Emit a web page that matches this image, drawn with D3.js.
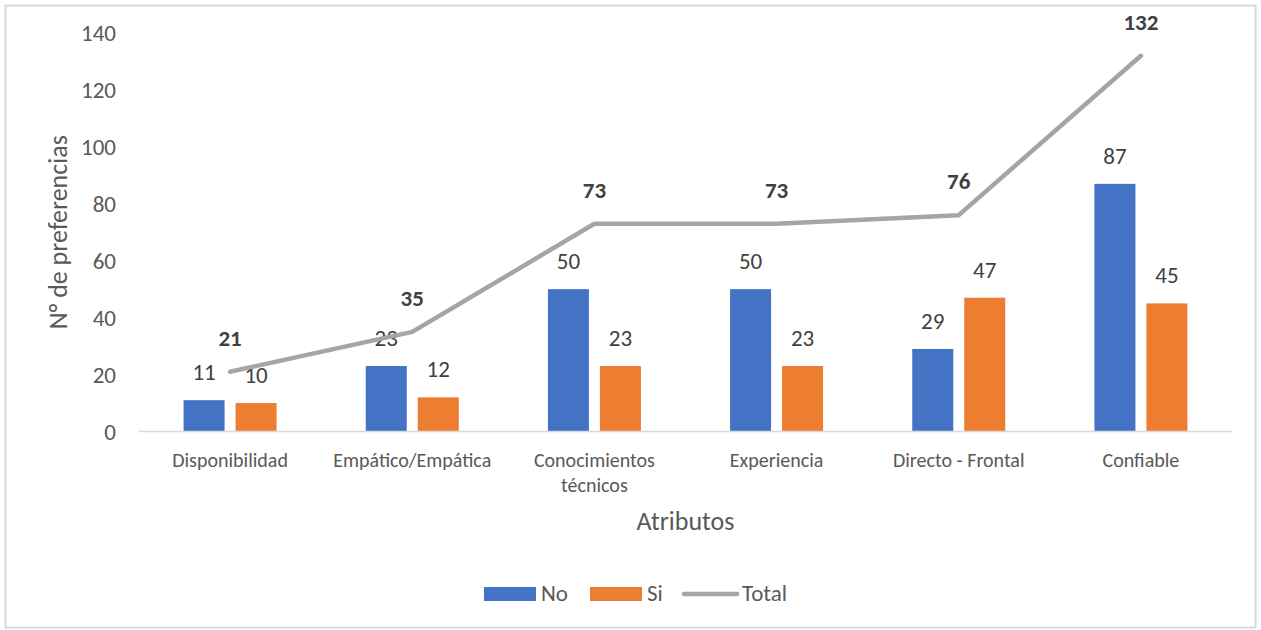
<!DOCTYPE html>
<html>
<head>
<meta charset="utf-8">
<script src="https://cdn.jsdelivr.net/npm/d3@7"></script>
<style>
  html, body { margin: 0; padding: 0; background: #fff; }
  svg { display: block; font-family: Calibri, Carlito, Lato, "Open Sans", sans-serif; }
</style>
</head>
<body>
<svg id="chart" width="1261" height="630"></svg>
<script>
// Atributos and preference counts
const categories = ["Disponibilidad", "Empático/Empática", "Conocimientos técnicos", "Experiencia", "Directo - Frontal", "Confiable"];
const noValues = [11, 23, 50, 50, 29, 87];
const siValues = [10, 12, 23, 23, 47, 45];
const totalValues = [21, 35, 73, 73, 76, 132];
const yTicks = [0, 20, 40, 60, 80, 100, 120, 140];

const colors = { No: "#4472C4", Si: "#ED7D31", Total: "#A5A5A5" };

const svg = d3.select("#chart");
const W = 1261, H = 630;

// outer frame
svg.append("rect")
  .attr("x", 5.5).attr("y", 5.5)
  .attr("width", W - 11).attr("height", H - 8)
  .attr("fill", "#fff").attr("stroke", "#D9D9D9").attr("stroke-width", 2);

const plot = { left: 139, right: 1232, top: 33, bottom: 431.5 };

const x = d3.scaleBand().domain(categories).range([plot.left, plot.right]);
const y = d3.scaleLinear().domain([0, 140]).range([plot.bottom, plot.top]);

const barW = 41, gap = 11;
const groupOffset = { No: -(gap / 2) - barW, Si: gap / 2 };

// y tick labels
svg.append("g").selectAll("text")
  .data(yTicks).join("text")
  .attr("x", 116).attr("y", d => y(d) + 8)
  .attr("text-anchor", "end")
  .attr("font-size", 23).attr("fill", "#595959")
  .text(d => d);

// bars
const series = [
  { name: "No", values: noValues },
  { name: "Si", values: siValues }
];
series.forEach(s => {
  const g = svg.append("g");
  g.selectAll("rect")
    .data(s.values).join("rect")
    .attr("x", (d, i) => x(categories[i]) + x.bandwidth() / 2 + groupOffset[s.name])
    .attr("y", d => y(d))
    .attr("width", barW)
    .attr("height", d => y(0) - y(d))
    .attr("fill", colors[s.name]);
  g.selectAll("text")
    .data(s.values).join("text")
    .attr("x", (d, i) => x(categories[i]) + x.bandwidth() / 2 + groupOffset[s.name] + barW / 2)
    .attr("y", d => y(d) - 20)
    .attr("text-anchor", "middle")
    .attr("font-size", 23).attr("fill", "#404040")
    .text(d => d);
});

// x axis line
svg.append("line")
  .attr("x1", plot.left).attr("x2", plot.right)
  .attr("y1", plot.bottom).attr("y2", plot.bottom)
  .attr("stroke", "#D9D9D9").attr("stroke-width", 1.5);

// total line
const line = d3.line()
  .x((d, i) => x(categories[i]) + x.bandwidth() / 2)
  .y(d => y(d));
svg.append("path")
  .datum(totalValues)
  .attr("d", line)
  .attr("fill", "none")
  .attr("stroke", colors.Total)
  .attr("stroke-width", 4.5)
  .attr("stroke-linecap", "round")
  .attr("stroke-linejoin", "round");

svg.append("g").selectAll("text")
  .data(totalValues).join("text")
  .attr("x", (d, i) => x(categories[i]) + x.bandwidth() / 2)
  .attr("y", d => y(d) - 26)
  .attr("text-anchor", "middle")
  .attr("font-size", 23).attr("font-weight", "bold").attr("fill", "#404040")
  .text(d => d);

// category labels (wrapped)
const catLines = {
  "Conocimientos técnicos": ["Conocimientos", "técnicos"]
};
const catG = svg.append("g");
categories.forEach(c => {
  const lines = catLines[c] || [c];
  const t = catG.append("text")
    .attr("x", x(c) + x.bandwidth() / 2)
    .attr("y", 467)
    .attr("text-anchor", "middle")
    .attr("font-size", 20).attr("fill", "#595959");
  lines.forEach((l, k) => {
    t.append("tspan")
      .attr("x", x(c) + x.bandwidth() / 2)
      .attr("dy", k === 0 ? 0 : 25)
      .text(l);
  });
});

// axis titles
svg.append("text")
  .attr("x", (plot.left + plot.right) / 2)
  .attr("y", 530)
  .attr("text-anchor", "middle")
  .attr("font-size", 26).attr("fill", "#595959")
  .text("Atributos");

svg.append("text")
  .attr("transform", "translate(67," + ((plot.top + plot.bottom) / 2) + ") rotate(-90)")
  .attr("text-anchor", "middle")
  .attr("font-size", 26).attr("fill", "#595959")
  .text("N° de preferencias");

// legend
const legend = svg.append("g");
const legendItems = [
  { name: "No", x: 484, type: "rect" },
  { name: "Si", x: 590, type: "rect" },
  { name: "Total", x: 684, type: "line" }
];
legendItems.forEach(it => {
  if (it.type === "rect") {
    legend.append("rect")
      .attr("x", it.x).attr("y", 587)
      .attr("width", 52).attr("height", 14)
      .attr("fill", colors[it.name]);
    legend.append("text")
      .attr("x", it.x + 57).attr("y", 601)
      .attr("font-size", 23).attr("fill", "#595959")
      .text(it.name);
  } else {
    legend.append("line")
      .attr("x1", it.x).attr("x2", it.x + 53)
      .attr("y1", 594).attr("y2", 594)
      .attr("stroke", colors.Total).attr("stroke-width", 4.5)
      .attr("stroke-linecap", "round");
    legend.append("text")
      .attr("x", it.x + 58).attr("y", 601)
      .attr("font-size", 23).attr("fill", "#595959")
      .text(it.name);
  }
});
</script>
</body>
</html>
